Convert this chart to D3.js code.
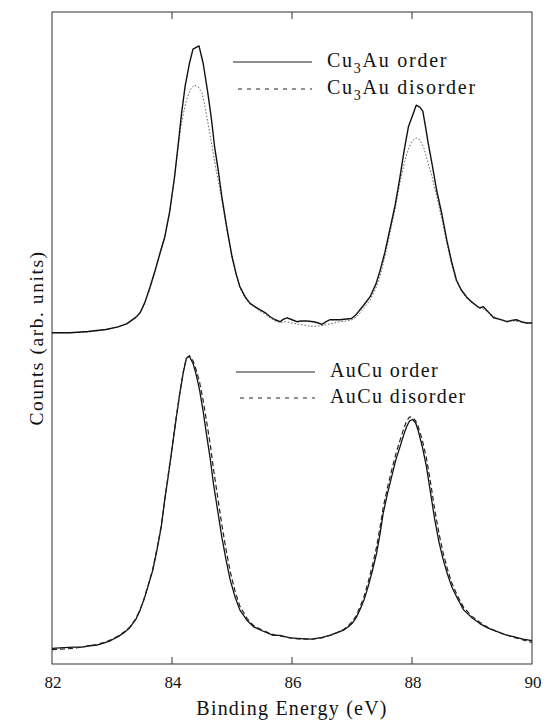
<!DOCTYPE html>
<html>
<head>
<meta charset="utf-8">
<script src="https://cdn.jsdelivr.net/npm/d3@7"></script>
<style>
  html, body { margin: 0; padding: 0; background: #fff; }
  svg { display: block; }
</style>
</head>
<body>
<svg id="chart" width="544" height="726"></svg>
<script>
// Au 4f core-level spectra, counts in arbitrary units (upper pair offset by ~50)
const cu3auOrderE = [82.00,82.30,82.60,82.90,83.10,83.25,83.40,83.47,83.55,83.63,83.72,83.80,83.88,83.96,84.04,84.10,84.16,84.22,84.29,84.35,84.45,84.52,84.60,84.66,84.71,84.77,84.83,84.92,85.00,85.07,85.13,85.22,85.30,85.40,85.47,85.55,85.63,85.72,85.80,85.86,85.92,86.00,86.08,86.15,86.25,86.36,86.44,86.50,86.57,86.63,86.80,86.99,87.06,87.13,87.20,87.30,87.40,87.47,87.55,87.63,87.72,87.80,87.87,87.94,88.00,88.07,88.13,88.18,88.22,88.27,88.34,88.41,88.50,88.58,88.66,88.74,88.82,88.91,89.00,89.08,89.13,89.19,89.24,89.30,89.36,89.45,89.52,89.58,89.66,89.74,89.82,89.91,90.00];
const cu3auOrder = [50.8,50.8,51.0,51.3,51.7,52.2,53.2,53.9,55.5,57.7,60.4,63.0,65.5,69.3,74.5,79.4,84.5,88.7,92.1,94.3,94.8,92.1,87.4,83.4,79.3,75.8,71.7,66.6,62.5,59.8,57.9,56.3,55.3,54.7,54.3,53.9,53.3,52.8,52.5,52.9,53.1,52.8,52.5,52.6,52.6,52.5,52.3,52.1,52.5,52.8,52.8,53.0,53.5,54.3,55.1,56.3,58.3,60.4,63.2,66.6,70.4,74.7,78.8,82.4,83.9,85.7,85.4,84.8,82.7,79.9,76.4,72.7,68.9,65.0,61.7,58.9,57.4,56.3,55.5,54.9,54.6,54.8,54.3,53.7,53.1,52.9,52.7,52.5,52.7,52.8,52.5,52.3,52.3];

const cu3auDisorderE = [82.00,82.30,82.60,82.90,83.10,83.25,83.40,83.47,83.55,83.63,83.72,83.80,83.88,83.96,84.04,84.10,84.16,84.24,84.30,84.37,84.44,84.50,84.55,84.62,84.67,84.72,84.77,84.83,84.92,85.00,85.07,85.13,85.22,85.30,85.40,85.47,85.55,85.63,85.72,85.80,85.90,86.00,86.10,86.20,86.30,86.40,86.50,86.60,86.70,86.80,86.90,87.00,87.07,87.13,87.20,87.30,87.40,87.47,87.55,87.63,87.72,87.80,87.87,87.94,88.00,88.07,88.13,88.20,88.27,88.34,88.41,88.50,88.58,88.66,88.74,88.82,88.91,89.00,89.10,89.20,89.30,89.40,89.50,89.60,89.70,89.80,89.90,90.00];
const cu3auDisorder = [50.8,50.8,50.9,51.3,51.7,52.2,53.1,53.8,55.4,57.5,60.4,63.0,65.6,69.3,74.5,79.3,83.1,86.5,88.0,88.8,88.5,87.6,85.5,81.9,79.3,76.5,74.2,71.2,66.3,62.3,59.7,57.7,56.1,55.2,54.6,54.1,53.7,53.1,52.6,52.4,52.5,52.3,52.1,52.0,51.8,51.8,51.9,52.1,52.3,52.5,52.6,52.8,53.2,53.8,54.6,55.8,57.7,59.5,62.6,66.0,69.9,73.8,76.8,79.0,80.2,80.7,80.4,79.1,76.8,74.5,71.8,68.1,64.6,61.3,58.7,57.2,56.1,55.4,54.8,54.4,53.8,53.1,52.8,52.5,52.6,52.5,52.3,52.3];

const aucuE = [82.00,82.20,82.36,82.50,82.63,82.75,82.86,82.98,83.10,83.20,83.30,83.40,83.47,83.53,83.60,83.68,83.75,83.82,83.88,83.94,83.99,84.06,84.13,84.19,84.24,84.29,84.35,84.40,84.46,84.52,84.58,84.64,84.69,84.76,84.83,84.90,84.97,85.05,85.13,85.25,85.36,85.50,85.69,85.80,85.97,86.15,86.33,86.50,86.63,86.75,86.86,86.94,87.00,87.07,87.13,87.20,87.27,87.34,87.41,87.47,87.52,87.59,87.66,87.73,87.80,87.86,87.91,87.96,88.01,88.06,88.10,88.17,88.24,88.31,88.38,88.45,88.52,88.59,88.66,88.76,88.86,89.00,89.13,89.27,89.41,89.55,89.69,89.85,90.00];
const aucuOrder = [2.4,2.5,2.6,2.6,2.8,2.9,3.2,3.6,4.2,4.8,5.6,6.9,8.3,9.8,11.9,14.4,17.5,21.0,25.2,29.0,32.3,37.0,41.5,44.8,46.9,47.2,46.1,44.5,42.0,38.7,34.9,31.3,27.7,23.6,19.5,16.0,12.9,10.3,8.3,6.7,5.7,5.1,4.4,4.4,4.0,3.9,3.8,4.1,4.4,4.8,5.2,5.7,6.2,7.1,8.3,9.8,11.9,14.3,17.0,20.1,23.1,26.1,28.7,31.3,33.3,35.1,36.4,37.3,37.5,37.0,35.9,33.4,30.3,26.2,22.1,18.7,16.0,13.8,11.9,10.0,8.3,7.1,6.2,5.5,5.0,4.5,4.2,3.8,3.6];
const aucuDisorder = [2.2,2.3,2.4,2.6,2.8,3.0,3.3,3.7,4.3,4.9,5.7,7.0,8.4,9.9,12.0,14.6,17.7,21.2,25.3,29.2,32.5,37.2,41.6,44.9,46.9,47.3,46.5,45.2,43.2,40.4,37.0,33.5,30.0,25.7,21.4,17.6,14.2,11.2,8.9,7.0,5.9,5.2,4.5,4.3,4.0,3.8,3.8,4.0,4.4,4.8,5.3,5.9,6.5,7.4,8.7,10.3,12.6,15.1,18.0,21.1,24.0,27.0,29.7,32.2,34.3,36.0,37.3,37.9,37.8,37.3,36.5,34.4,31.6,27.8,23.6,20.0,17.0,14.6,12.5,10.4,8.7,7.3,6.4,5.6,5.0,4.5,4.1,3.7,3.3];

const xTicks = [82, 84, 86, 88, 90];
const legendTop = ["order", "disorder"];
const legendBottom = ["AuCu order", "AuCu disorder"];

const serif = "'Liberation Serif', 'Times New Roman', Times, 'DejaVu Serif', serif";
const svg = d3.select("#chart")
  .attr("font-family", serif)
  .style("font-family", serif);
const plotL = 52, plotR = 532, plotT = 12, plotB = 664;

const x = d3.scaleLinear().domain([82, 90]).range([plotL, plotR]);
const y = d3.scaleLinear().domain([0, 100]).range([plotB, plotT]);

const line = d3.line().x(d => x(d[0])).y(d => y(d[1]));
const zipped = (e, v) => e.map((d, i) => [d, v[i]]);

// frame
svg.append("rect")
  .attr("x", plotL).attr("y", plotT)
  .attr("width", plotR - plotL).attr("height", plotB - plotT)
  .attr("fill", "none").attr("stroke", "#333").attr("stroke-width", 1);

// inward ticks on bottom and top, labels below
const inner = [84, 86, 88];
svg.append("g").selectAll("line").data(inner).join("line")
  .attr("x1", d => x(d)).attr("x2", d => x(d))
  .attr("y1", plotB).attr("y2", plotB - 7)
  .attr("stroke", "#333").attr("stroke-width", 1);
svg.append("g").selectAll("line").data(inner).join("line")
  .attr("x1", d => x(d)).attr("x2", d => x(d))
  .attr("y1", plotT).attr("y2", plotT + 7)
  .attr("stroke", "#333").attr("stroke-width", 1);
svg.append("g").selectAll("text").data(xTicks).join("text")
  .attr("x", d => x(d) + 1).attr("y", 688)
  .attr("text-anchor", "middle")
  .attr("font-size", 17).attr("fill", "#111")
  .text(d => d);

// axis titles
svg.append("text")
  .attr("x", (plotL + plotR) / 2).attr("y", 715)
  .attr("text-anchor", "middle").attr("fill", "#111")
  .attr("font-size", 20).attr("letter-spacing", 1.2)
  .text("Binding Energy (eV)");
svg.append("text")
  .attr("transform", `translate(43,${(plotT + plotB) / 2}) rotate(-90)`)
  .attr("text-anchor", "middle").attr("fill", "#111")
  .attr("font-size", 19.5).attr("letter-spacing", 1.55)
  .text("Counts (arb. units)");

// spectra
svg.append("path").datum(zipped(cu3auDisorderE, cu3auDisorder))
  .attr("d", line).attr("fill", "none")
  .attr("stroke", "#555").attr("stroke-width", 0.9)
  .attr("stroke-dasharray", "1.6,1.8");
svg.append("path").datum(zipped(cu3auOrderE, cu3auOrder))
  .attr("d", line).attr("fill", "none")
  .attr("stroke", "#111").attr("stroke-width", 1.4)
  .attr("stroke-linejoin", "round");

svg.append("path").datum(zipped(aucuE, aucuOrder))
  .attr("d", line).attr("fill", "none")
  .attr("stroke", "#111").attr("stroke-width", 1.3)
  .attr("stroke-linejoin", "round");
svg.append("path").datum(zipped(aucuE, aucuDisorder))
  .attr("d", line).attr("fill", "none")
  .attr("stroke", "#222").attr("stroke-width", 1.2)
  .attr("stroke-dasharray", "5,3");

// legends
function legendRow(x1, x2, ly, dash, label, sub) {
  svg.append("line")
    .attr("x1", x1).attr("x2", x2).attr("y1", ly).attr("y2", ly)
    .attr("stroke", "#222").attr("stroke-width", 1.2)
    .attr("stroke-dasharray", dash);
  const t = svg.append("text")
    .attr("x", x2 + 15).attr("y", ly + 5).attr("fill", "#111")
    .attr("font-size", 20).attr("letter-spacing", sub ? 1.75 : 1.4);
  if (sub) {
    t.append("tspan").text("Cu");
    t.append("tspan").attr("font-size", 14).attr("dy", 6).text("3");
    t.append("tspan").attr("dy", -6).text("Au " + label);
  } else {
    t.text(label);
  }
}
legendRow(233, 312, 62, null, legendTop[0], true);
legendRow(238, 312, 89, "4,5", legendTop[1], true);
legendRow(236, 315, 372, null, legendBottom[0], false);
legendRow(240, 315, 398, "4,5", legendBottom[1], false);
</script>
</body>
</html>
